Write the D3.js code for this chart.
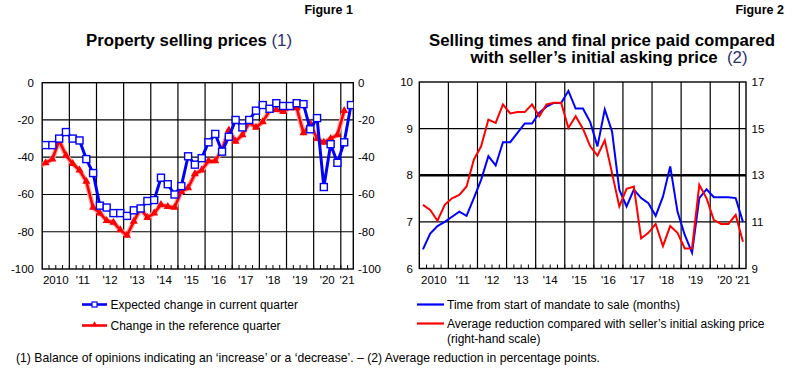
<!DOCTYPE html>
<html><head><meta charset="utf-8">
<script src="https://cdn.jsdelivr.net/npm/d3@7"></script>
<style>
body{margin:0;background:#fff;}
svg{display:block;font-family:Arial,"Liberation Sans",sans-serif;}
</style></head>
<body>
<svg id="c" width="800" height="381"></svg>
<script>
// ---------- DATA ----------
const quarters1 = ["2009Q4","2010Q1","2010Q2","2010Q3","2010Q4","2011Q1","2011Q2","2011Q3","2011Q4",
"2012Q1","2012Q2","2012Q3","2012Q4","2013Q1","2013Q2","2013Q3","2013Q4",
"2014Q1","2014Q2","2014Q3","2014Q4","2015Q1","2015Q2","2015Q3","2015Q4",
"2016Q1","2016Q2","2016Q3","2016Q4","2017Q1","2017Q2","2017Q3","2017Q4",
"2018Q1","2018Q2","2018Q3","2018Q4","2019Q1","2019Q2","2019Q3","2019Q4",
"2020Q1","2020Q2","2020Q3","2020Q4","2021Q1","2021Q2"];
const expectedChange = [-34,-33.5,-33.5,-30,-26.5,-30,-31,-41,-48.5,-66,-67,-70,-70,-71.5,-68.5,-67.5,-63.5,
-63,-51,-54.5,-60,-55.5,-39.5,-44,-40.5,-32,-27.5,-37,-29,-20,-24,-20,-15,
-12,-14,-11,-12.5,-12.5,-11,-11.5,-25,-19,-56,-33,-43,-32,-12];
const referenceChange = [-45,-43,-41,-31,-39,-43.5,-47,-53,-67,-70,-74,-75,-79,-82,-74.5,-67.5,-72.5,
-70,-65.5,-66.5,-67,-58.5,-56.5,-49,-47,-42,-42,-36,-25.5,-31.5,-28,-21.5,-24,
-21,-15,-14.5,-15.5,-13.5,-13.5,-27,-22,-30,-32,-30,-28,-15];
const quarters2 = quarters1.slice(1,46);
const sellingTime = [6.41,6.75,6.91,7.0,7.11,7.22,7.13,7.51,7.9,8.41,8.21,8.71,8.71,8.91,9.11,9.11,
9.34,9.47,9.55,9.55,9.81,9.43,9.43,9.14,8.62,9.41,8.94,7.69,7.33,7.69,7.51,7.4,
7.13,7.54,8.19,7.22,6.72,6.34,7.51,7.7,7.53,7.53,7.53,7.51,7.0];
const priceReduction = [11.73,11.51,11.05,11.73,12.01,12.16,12.52,13.67,14.24,15.39,15.25,16.04,15.65,15.71,15.71,16.04,
15.53,16.04,16.11,16.11,15.03,15.53,15.0,14.24,13.84,14.5,13.09,11.66,12.42,12.52,10.29,10.53,
10.91,9.96,10.82,10.53,9.86,9.86,12.59,12.01,11.08,10.91,10.91,11.3,10.15];
const years = [2010,2011,2012,2013,2014,2015,2016,2017,2018,2019,2020,2021];
const yearLabels = ["2010","'11","'12","'13","'14","'15","'16","'17","'18","'19","'20","'21"];
const ticks1 = [0,-20,-40,-60,-80,-100];
const ticksL2 = [10,9,8,7,6];
const ticksR2 = [17,15,13,11,9];

// ---------- HELPERS ----------
const svg = d3.select("#c");
function qTime(q){ return +q.slice(0,4) + (+q.slice(5)-1)/4 + 0.125; }

function frame(g, x, y, x0, x1, y0, y1, hLines, thick){
  years.filter(v=>v>x0 && v<x1).forEach(v=>{
    g.append("line").attr("x1",x(v)).attr("x2",x(v)).attr("y1",y(y0)).attr("y2",y(y1))
     .attr("stroke","#000").attr("stroke-width",1.2);
  });
  hLines.forEach(v=>{
    g.append("line").attr("x1",x(x0)).attr("x2",x(x1)).attr("y1",y(v)).attr("y2",y(v))
     .attr("stroke","#000").attr("stroke-width", v===thick?2.6:1.2);
  });
  const qt = d3.range(0,48).map(i=>2010+i/4).filter(v=>v>x0 && v<x1);
  qt.forEach(v=>{
    g.append("line").attr("x1",x(v)).attr("x2",x(v)).attr("y1",y(y0)).attr("y2",y(y0)-4)
     .attr("stroke","#000").attr("stroke-width",1);
  });
  g.append("rect").attr("x",x(x0)).attr("y",y(y1)).attr("width",x(x1)-x(x0)).attr("height",y(y0)-y(y1))
   .attr("fill","none").attr("stroke","#000").attr("stroke-width",1.4);
  years.forEach((v,i)=>{
    const a=Math.max(v,x0), b=Math.min(v+1,x1);
    g.append("text").attr("x",(x(a)+x(b))/2).attr("y",y(y0)+15).attr("text-anchor","middle")
     .attr("font-size",11.5).text(yearLabels[i]);
  });
}

// ---------- FIGURE 1 ----------
const x1 = d3.scaleLinear().domain([2010,2021.46]).range([42.2,353.3]);
const y1 = d3.scaleLinear().domain([-100,0]).range([269,82.7]);
const g1 = svg.append("g");
svg.append("clipPath").attr("id","clip1").append("rect")
  .attr("x",x1(2010)).attr("y",y1(0)-10).attr("width",x1(2021.46)-x1(2010)).attr("height",y1(-100)-y1(0)+20);
frame(g1,x1,y1,2010,2021.46,-100,0,[-20,-40,-60,-80],null);
ticks1.forEach(v=>{
  g1.append("text").attr("x",34).attr("y",y1(v)+4).attr("text-anchor","end").attr("font-size",11.5).text(v);
  g1.append("text").attr("x",358).attr("y",y1(v)+4).attr("text-anchor","start").attr("font-size",11.5).text(v);
});
const d1b = quarters1.map((q,i)=>({t:qTime(q),v:expectedChange[i]}));
const d1r = quarters1.slice(0,referenceChange.length).map((q,i)=>({t:qTime(q),v:referenceChange[i]}));
const line1 = d3.line().x(d=>x1(d.t)).y(d=>y1(d.v));
const p1 = g1.append("g").attr("clip-path","url(#clip1)");
p1.append("path").datum(d1r).attr("d",line1).attr("fill","none").attr("stroke","#f7a8a8").attr("stroke-width",5).attr("stroke-linejoin","round");
p1.append("path").datum(d1r).attr("d",line1).attr("fill","none").attr("stroke","#ff0000").attr("stroke-width",2.6).attr("stroke-linejoin","round");
const tri = d3.symbol().type(d3.symbolTriangle).size(28);
p1.selectAll(".tri").data(d1r.filter(d=>d.t>2010)).join("path").attr("transform",d=>`translate(${x1(d.t)},${y1(d.v)})`)
  .attr("d",tri).attr("fill","#ff0000");
p1.append("path").datum(d1b).attr("d",line1).attr("fill","none").attr("stroke","#0000ff").attr("stroke-width",3).attr("stroke-linejoin","round");
p1.selectAll(".sq").data(d1b.filter(d=>d.t>2010)).join("rect").attr("x",d=>x1(d.t)-3.5).attr("y",d=>y1(d.v)-3.5)
  .attr("width",7).attr("height",7).attr("fill","#fff").attr("stroke","#0000ff").attr("stroke-width",1.4);

g1.append("text").attr("x",353).attr("y",14).attr("text-anchor","end").attr("font-size",12.5).attr("font-weight","bold").text("Figure 1");
const t1 = g1.append("text").attr("x",189).attr("y",46.3).attr("text-anchor","middle").attr("font-size",16.8);
t1.append("tspan").attr("font-weight","bold").text("Property selling prices ");
t1.append("tspan").attr("fill","#2e2e6e").text("(1)");

// legend 1
g1.append("line").attr("x1",82).attr("x2",107).attr("y1",304.5).attr("y2",304.5).attr("stroke","#0000ff").attr("stroke-width",2.6);
g1.append("rect").attr("x",92).attr("y",302).attr("width",5).attr("height",5).attr("fill","#fff").attr("stroke","#0000ff").attr("stroke-width",1.2);
g1.append("text").attr("x",110.5).attr("y",308.5).attr("font-size",12).text("Expected change in current quarter");
g1.append("line").attr("x1",82).attr("x2",107).attr("y1",325.5).attr("y2",325.5).attr("stroke","#ff0000").attr("stroke-width",2.6);
g1.append("path").attr("transform","translate(94.5,324.5)").attr("d",d3.symbol().type(d3.symbolTriangle).size(14)).attr("fill","#ff0000");
g1.append("text").attr("x",110.5).attr("y",329.5).attr("font-size",12).text("Change in the reference quarter");

// ---------- FIGURE 2 ----------
const x2 = d3.scaleLinear().domain([2010,2021.23]).range([419.3,746]);
const y2L = d3.scaleLinear().domain([6,10]).range([268.5,82]);
const y2R = d3.scaleLinear().domain([9,17]).range([268.5,82]);
const g2 = svg.append("g");
frame(g2,x2,y2L,2010,2021.23,6,10,[7,8,9],8);
ticksL2.forEach(v=>{
  g2.append("text").attr("x",413).attr("y",y2L(v)+4).attr("text-anchor","end").attr("font-size",11.5).text(v);
});
ticksR2.forEach(v=>{
  g2.append("text").attr("x",751.5).attr("y",y2R(v)+4).attr("text-anchor","start").attr("font-size",11.5).text(v);
});
const d2b = quarters2.map((q,i)=>({t:qTime(q),v:sellingTime[i]}));
const d2r = quarters2.map((q,i)=>({t:qTime(q),v:priceReduction[i]}));
g2.append("path").datum(d2b).attr("d",d3.line().x(d=>x2(d.t)).y(d=>y2L(d.v)))
  .attr("fill","none").attr("stroke","#0000ff").attr("stroke-width",2);
g2.append("path").datum(d2r).attr("d",d3.line().x(d=>x2(d.t)).y(d=>y2R(d.v)))
  .attr("fill","none").attr("stroke","#ff0000").attr("stroke-width",2);

g2.append("text").attr("x",784).attr("y",14).attr("text-anchor","end").attr("font-size",12.5).attr("font-weight","bold").text("Figure 2");
// two-line title as one text element
const t2 = g2.append("text").attr("text-anchor","middle").attr("font-size",16.8);
t2.append("tspan").attr("x",602).attr("y",46.3).attr("font-weight","bold").text("Selling times and final price paid compared");
t2.append("tspan").attr("x",609).attr("y",63.3).attr("font-weight","bold").text("with seller\u2019s initial asking price\u00a0 ");
t2.append("tspan").attr("fill","#2e2e6e").text("(2)");

// legend 2
g2.append("line").attr("x1",417).attr("x2",444).attr("y1",304.5).attr("y2",304.5).attr("stroke","#0000ff").attr("stroke-width",2.2);
g2.append("text").attr("x",447).attr("y",308.5).attr("font-size",12).text("Time from start of mandate to sale (months)");
g2.append("line").attr("x1",417).attr("x2",444).attr("y1",323.5).attr("y2",323.5).attr("stroke","#ff0000").attr("stroke-width",2.2);
g2.append("text").attr("x",447).attr("y",327.5).attr("font-size",12).text("Average reduction compared with seller\u2019s initial asking price");
g2.append("text").attr("x",447).attr("y",342.5).attr("font-size",12).text("(right-hand scale)");

// footnote
svg.append("text").attr("x",16).attr("y",362).attr("font-size",12.2)
  .text("(1) Balance of opinions indicating an \u2018increase\u2019 or a \u2018decrease\u2019. \u2013 (2) Average reduction in percentage points.");
</script>
</body></html>
